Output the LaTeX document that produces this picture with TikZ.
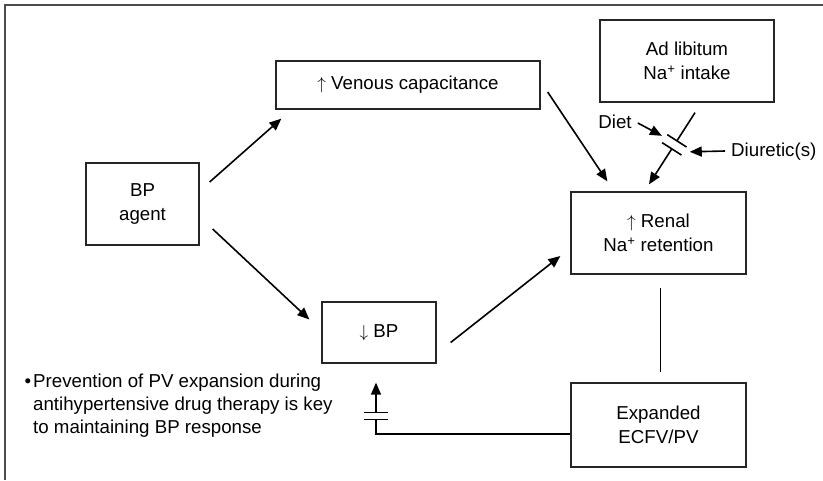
\documentclass[tikz,border=0pt]{standalone}
\usepackage{fontspec}
\setmainfont{Liberation Sans}
\usetikzlibrary{arrows.meta,calc}
\begin{document}
\begin{tikzpicture}[x=1pt,y=-1pt,
  box/.style={draw=black!85,line width=1.3pt,rectangle,inner sep=0pt,align=center,
    font=\fontsize{18.7}{23.5}\selectfont},
  lbl/.style={inner sep=0pt,font=\fontsize{18.7}{23}\selectfont},
  link/.style={line width=1.6pt,draw=black},
  arr/.style={link,-{Triangle[length=12pt,width=10pt]}},
  frame/.style={line width=2pt,draw=black!70}]
\useasboundingbox (0,0) rectangle (823,480);
\fill[white] (0,0) rectangle (823,480);
% outer frame (top and left edges)
\draw[frame] (5,480) -- (5,4.5) -- (823,4.5);

% boxes
\node[box,minimum width=113pt,minimum height=82pt] (agent) at (142.5,204) {BP\\agent};
\node[box,minimum width=264pt,minimum height=48pt] (venous) at (408,85) {$\uparrow$ Venous capacitance};
\node[box,minimum width=114pt,minimum height=61pt] (lowbp) at (379,332.5) {$\downarrow$ BP};
\node[box,minimum width=175pt,minimum height=82pt] (renal) at (658.5,233) {$\uparrow$ Renal\\Na\textsuperscript{+} retention};
\node[box,minimum width=175pt,minimum height=84pt] (expanded) at (658.5,425) {Expanded\\ECFV/PV};
\node[box,minimum width=174pt,minimum height=82pt] (adlib) at (687,61) {Ad libitum\\Na\textsuperscript{+} intake};

% labels
\node[lbl] (diet) at (615,122) {Diet};
\node[lbl,anchor=west] (diur) at (731,152) {Diuretic(s)};
\node[lbl,anchor=north west,align=left] (note) at (33,374)
  {\makebox[0pt][r]{\textbullet\hspace{2pt}}Prevention of PV expansion during\\
   antihypertensive drug therapy is key\\
   to maintaining BP response};

% main arrows
\draw[arr] ($(agent.east)+(10,-22)$) -- ($(venous.south west)+(6,9)$);
\draw[arr] ($(agent.east)+(13,25)$) -- ($(lowbp.west)+(-12,-13)$);
\draw[arr] ($(venous.east)+(7,7)$) -- ($(renal.north west)+(37,-10)$);
\draw[arr] ($(lowbp.east)+(14,10)$) -- ($(renal.west)+(-10,23)$);
\draw[link] ($(renal.south)+(2,13)$) -- ($(expanded.north)+(2,-10)$);

% sodium intake path, interrupted by diet / diuretics
\coordinate (ns) at ($(adlib.south)+(8,10)$);
\coordinate (ne) at ($(renal.north)+(-9.5,-7)$);
\coordinate (b1) at ($(ns)!33.5pt!(ne)$);
\coordinate (b2) at ($(ns)!43pt!(ne)$);
\draw[link] (ns) -- (b1);
\draw[arr] (b2) -- (ne);
\draw[link] ($(b1)!11.5pt!90:(ne)$) -- ($(b1)!11.5pt!-90:(ne)$);
\draw[link] ($(b2)!11.5pt!90:(ne)$) -- ($(b2)!11.5pt!-90:(ne)$);
\coordinate (dietend) at ($(b1)+(-15,-5)$);
\coordinate (diurend) at ($(b2)+(18,3)$);
\draw[arr] ($(diet.east)+(6,1)$) -- (dietend);
\draw[arr] ($(diur.west)+(-6,-1)$) -- (diurend);

% feedback from volume expansion, interrupted
\coordinate (fb1) at ($(lowbp.south)+(-3,56)$);
\coordinate (fb2) at ($(lowbp.south)+(-3,49)$);
\draw[link] ($(expanded.west)+(0,9)$) -| (fb1);
\draw[link] ($(fb1)+(-12,0)$) -- ++(24,0);
\draw[link] ($(fb2)+(-12,0)$) -- ++(24,0);
\draw[arr] (fb2) -- ($(lowbp.south)+(-3,19)$);
\end{tikzpicture}
\end{document}
